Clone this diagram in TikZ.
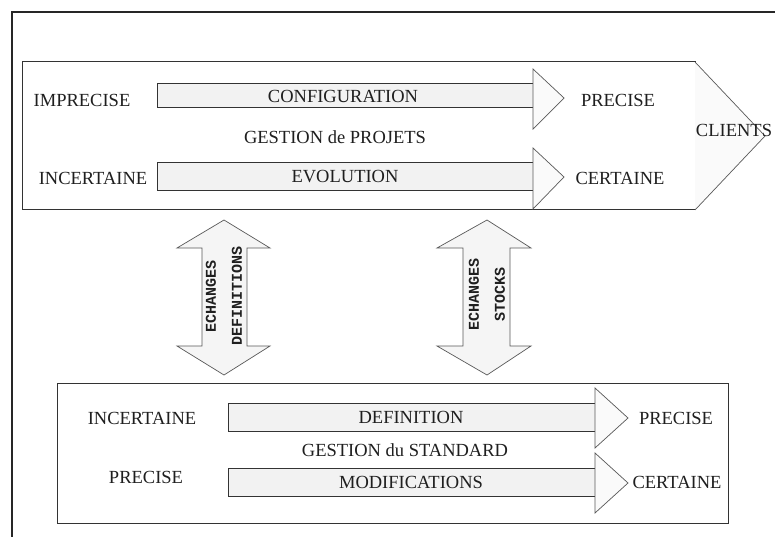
\documentclass[tikz,border=0pt]{standalone}
\usepackage{fontspec}
\setmainfont{Liberation Serif}
\newfontfamily\monob{Liberation Mono}
\begin{document}
\begin{tikzpicture}[x=1pt,y=-1pt,
  frame/.style={draw=black!85,line width=1.6pt},
  box/.style={draw=black!80,line width=1pt,fill=white},
  shaft/.style={draw=black!80,line width=1pt,fill=black!5},
  head/.style={draw=black!65,line width=0.7pt,fill=black!2},
  vhead/.style={draw=black!65,line width=0.7pt,fill=black!4},
  lbl/.style={inner sep=0pt,font=\fontsize{18.5}{21}\selectfont,text=black!88},
  vlbl/.style={inner sep=0pt,rotate=90,align=center,font=\monob\bfseries\fontsize{15}{26}\selectfont,text=black!88}]
\useasboundingbox (0,0) rectangle (775,537);
\fill[white] (0,0) rectangle (775,537);
% outer frame (only left and top visible)
\draw[frame] (12,537) -- (12,12) -- (775,12);
% top box
\draw[box] (22,62) rectangle (695,210);
\draw[head] (695,62) -- (765,136) -- (695,210);
\draw[shaft] (157,84) rectangle (533,108);
\draw[head] (533,69) -- (564,98) -- (533,129) -- cycle;
\draw[shaft] (157,163) rectangle (533,191);
\draw[head] (533,148) -- (564,177) -- (533,209) -- cycle;
\node[lbl] (imp) at (82,100) {IMPRECISE};
\node[lbl] (conf) at (343,96) {CONFIGURATION};
\node[lbl] (prec1) at (618,100) {PRECISE};
\node[lbl] (gp) at (335,137) {GESTION de PROJETS};
\node[lbl] (inc1) at (93,178) {INCERTAINE};
\node[lbl] (evo) at (345,177) {EVOLUTION};
\node[lbl] (cert1) at (620,178) {CERTAINE};
\node[lbl] (cli) at (734,130) {CLIENTS};
% vertical double arrows
\draw[vhead] (224,220) -- (270,248) -- (247,248) -- (247,346) -- (270,346) -- (224,375) -- (177,346) -- (202,346) -- (202,248) -- (177,248) -- cycle;
\draw[vhead] (487,220) -- (531,248) -- (510,248) -- (510,346) -- (531,346) -- (487,375) -- (437,346) -- (463,346) -- (463,248) -- (437,248) -- cycle;
\node[vlbl] (ed) at (224,296) {ECHANGES\\DEFINITIONS};
\node[vlbl] (es) at (487,294) {ECHANGES\\STOCKS};
% bottom box
\draw[box] (57,383) rectangle (728,523);
\draw[shaft] (228,403) rectangle (595,431);
\draw[head] (595,388) -- (628,418) -- (595,448) -- cycle;
\draw[shaft] (228,468) rectangle (595,496);
\draw[head] (595,453) -- (628,483) -- (595,513) -- cycle;
\node[lbl] (inc2) at (142,418) {INCERTAINE};
\node[lbl] (def) at (411,417) {DEFINITION};
\node[lbl] (prec2) at (676,418) {PRECISE};
\node[lbl] (gs) at (405,450) {GESTION du STANDARD};
\node[lbl] (prec3) at (146,477) {PRECISE};
\node[lbl] (mod) at (411,482) {MODIFICATIONS};
\node[lbl] (cert2) at (677,482) {CERTAINE};
\end{tikzpicture}
\end{document}
